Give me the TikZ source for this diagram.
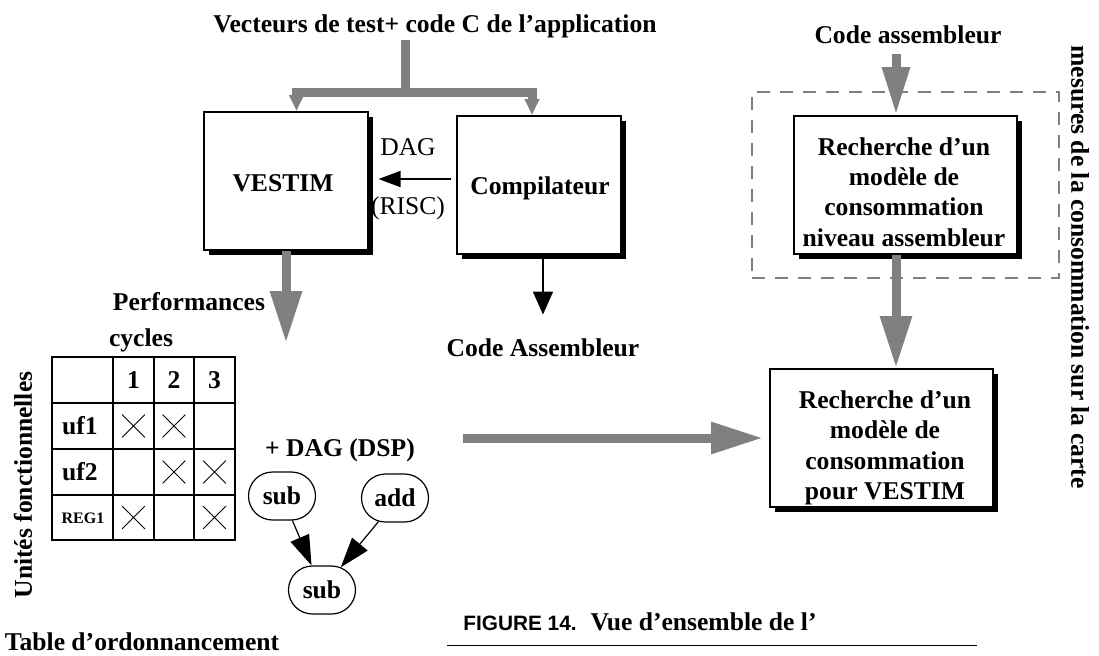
\documentclass[tikz,border=0pt]{standalone}
\usepackage{fontspec}
\setmainfont{Liberation Serif}
\newfontfamily\helv{Liberation Sans}
\usetikzlibrary{arrows.meta,shapes.misc,shadows,fit,positioning}
\definecolor{gris}{RGB}{128,128,128}
\newcommand{\police}{\fontsize{12.8}{15.2}\selectfont}

\begin{document}
\begin{tikzpicture}[x=0.5pt,y=-0.5pt,font=\police\bfseries]
    % Define styles
    \tikzstyle{bloc} = [rectangle, draw, line width=1pt, fill=white, align=center, drop shadow={shadow xshift=2.5pt, shadow yshift=-2.5pt, fill=black, opacity=1}]
    \tikzstyle{etiquette} = [inner sep=1pt]
    \tikzstyle{grosse} = [draw=gris, line width=4.5pt, -{Triangle[length=26pt,width=15pt]}]
    \tikzstyle{barre} = [draw=gris, line width=4.5pt, -{Triangle[length=8pt,width=7pt]}]
    \tikzstyle{fleche} = [line width=0.8pt, -{Triangle[length=11pt,width=8pt]}]
    \tikzstyle{operation} = [rounded rectangle, draw, line width=0.6pt, minimum width=35.5pt, minimum height=24pt, inner sep=1pt]
    \tikzstyle{croix} = [cross out, draw, line width=0.4pt, minimum size=11pt, inner sep=0pt]
    \tikzstyle{pointille} = [draw=gris, line width=1pt, dash pattern=on 6.5pt off 5pt]

    \useasboundingbox (0,0) rectangle (1099,655);

    % Entrees
    \node[etiquette] (vecteurs) at (435,26) {Vecteurs de test+ code C de l’application};
    \node[etiquette] (codeasmb) at (908,35) {Code assembleur};

    % Blocs
    \node[bloc, minimum width=82pt, minimum height=69pt] (vestim) at (285.5,181) {};
    \node[bloc, minimum width=82pt, minimum height=69pt] (compil) at (539,185) {};
    \node[bloc, minimum width=111.5pt, minimum height=69pt] (modasm) at (905.5,185) {};
    \node[bloc, minimum width=111.5pt, minimum height=69pt] (modvestim) at (881.5,438) {};
    \node[pointille, fit=(modasm), inner xsep=20.5pt, inner ysep=11.5pt] (cadre) {};

    % Textes des blocs
    \node[etiquette] (vestimtxt) at (283,183) {VESTIM};
    \node[etiquette] (compiltxt) at (540,188) {Compilateur};
    \node[etiquette, align=center] (modasmtxt) at (904,192) {Recherche d’un\\modèle de\\consommation\\niveau assembleur};
    \node[etiquette, align=center] (modvestimtxt) at (885,448) {Recherche d’un\\modèle de\\consommation\\pour VESTIM};

    % Labels
    \node[etiquette, font=\police\mdseries] (dag) at (408,147) {DAG};
    \node[etiquette, font=\police\mdseries] (risc) at (408,208) {(RISC)};
    \node[etiquette] (perf) at (189,302) {Performances};
    \node[etiquette] (codeasm) at (543,348) {Code Assembleur};
    \node[etiquette, rotate=-90] (mesures) at (1080,267) {mesures de la consommation sur la carte};

    % Table d'ordonnancement
    \node[etiquette] (cycles) at (141,340) {cycles};
    \draw[line width=1pt] (52,357) rectangle (235,540);
    \foreach \x in {113,154,194} \draw[line width=1pt] (\x,357) -- (\x,540);
    \foreach \y in {403,449,495} \draw[line width=1pt] (52,\y) -- (235,\y);
    \node (c1) at (133.5,380) {1};
    \node (c2) at (174,380) {2};
    \node (c3) at (214.5,380) {3};
    \node (uf1) at (80,426) {uf1};
    \node (uf2) at (80,472) {uf2};
    \node[font=\fontsize{8}{9}\selectfont\bfseries] (reg1) at (83,518) {REG1};
    \foreach \x/\y [count=\i] in {133.5/426,174/426,174/472,214.5/472,133.5/517.5,214.5/517.5}
        \node[croix] (croix\i) at (\x,\y) {};
    \node[etiquette, rotate=90] (unites) at (23,485) {Unités fonctionnelles};
    \node[etiquette] (table) at (142,642) {Table d’ordonnancement};

    % DAG (DSP)
    \node[etiquette] (dagdsp) at (340,450) {+ DAG (DSP)};
    \node[operation] (sub1) at (282,496) {sub};
    \node[operation] (add) at (395,498) {add};
    \node[operation] (sub2) at (322,590) {sub};

    % Arrows
    \coordinate (split) at (405,92);
    \coordinate (perfbout) at (286,343);
    \coordinate (depart) at (463,438);
    \coordinate (axe) at (896,0);
    \draw[draw=gris, line width=4.5pt] (vecteurs.south -| split) -- (split);
    \draw[barre] (split) -| ([xshift=5.5pt]vestim.north);
    \draw[barre] (split) -| ([xshift=-3.5pt]compil.north);
    \draw[fleche, shorten <=2.5pt, shorten >=5pt] ([yshift=3pt]compil.west) -- ([yshift=3pt]compil.west -| vestim.east);
    \draw[grosse] (vestim.south -| perfbout) -- (perfbout);
    \draw[fleche, line width=0.9pt, -{Triangle[length=11.5pt,width=10pt]}, shorten >=11pt] ([xshift=2pt]compil.south) -- ([xshift=2pt]compil.south |- codeasm.north);
    \draw[grosse, -{Triangle[length=24pt,width=13pt]}, shorten <=4pt] (codeasmb.south -| axe) -- (modasm.north -| axe);
    \draw[grosse] (modasm.south -| axe) -- (modvestim.north -| axe);
    \draw[grosse, shorten >=3pt] (depart) -- (modvestim.west |- depart);
    \draw[fleche, line width=0.6pt, -{Triangle[length=15pt,width=10pt]}] (sub1) -- (sub2);
    \draw[fleche, line width=0.6pt, -{Triangle[length=15pt,width=10pt]}] (add.-125) -- (sub2);

    % Legende
    \node[anchor=west, inner sep=0pt] (legende) at (463,622) {{\helv\fontsize{10.4}{12}\selectfont FIGURE 14.}\hspace{7pt}Vue d’ensemble de l’};
    \draw[line width=0.5pt] (447,645) -- (977,645);

\end{tikzpicture}
\end{document}
